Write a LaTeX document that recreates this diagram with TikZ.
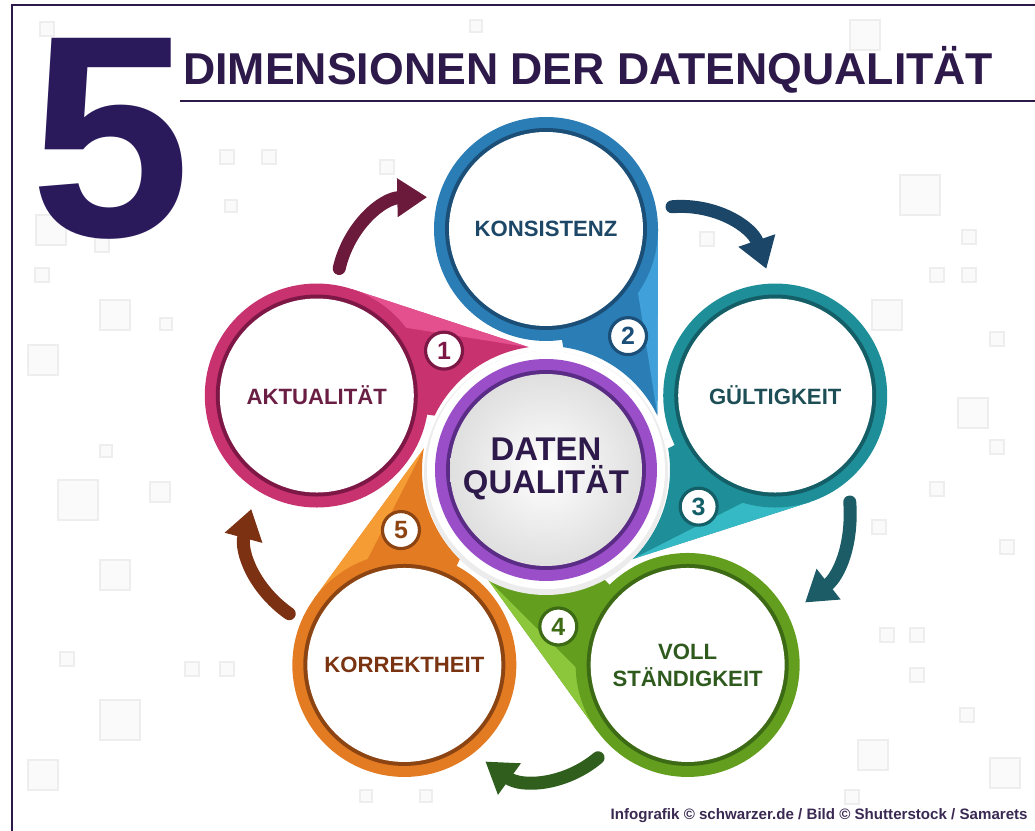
\documentclass[tikz,border=0pt]{standalone}
\usepackage{fontspec}
\setmainfont{Liberation Sans}
\usetikzlibrary{arrows.meta}
\definecolor{ink}{HTML}{2E1A4A}
\definecolor{five}{HTML}{2A1A5C}
\definecolor{mag}{HTML}{C8326F}\definecolor{magD}{HTML}{7D1846}\definecolor{magL}{HTML}{E4508E}\definecolor{magT}{HTML}{6B1E44}
\definecolor{blu}{HTML}{2B7DB5}\definecolor{bluD}{HTML}{1B4F78}\definecolor{bluL}{HTML}{3FA0DA}\definecolor{bluT}{HTML}{1D4766}
\definecolor{tea}{HTML}{1E8E98}\definecolor{teaD}{HTML}{145F67}\definecolor{teaL}{HTML}{35B9C4}\definecolor{teaT}{HTML}{1E4E55}
\definecolor{grn}{HTML}{639E1F}\definecolor{grnD}{HTML}{3D6A14}\definecolor{grnL}{HTML}{8CC63A}\definecolor{grnT}{HTML}{2F5A1E}
\definecolor{org}{HTML}{E27B22}\definecolor{orgD}{HTML}{8C4413}\definecolor{orgL}{HTML}{F59C34}\definecolor{orgT}{HTML}{7A3411}
\definecolor{pur}{HTML}{9A4FC9}\definecolor{purD}{HTML}{5A2C85}
\definecolor{arA}{HTML}{6B1A3B}\definecolor{arB}{HTML}{1B4667}\definecolor{arC}{HTML}{1C5C66}
\definecolor{arD}{HTML}{2F5E1D}\definecolor{arE}{HTML}{7C3113}
\tikzset{every node/.append style={transform shape=false}}
\tikzset{
  lbl/.style={font=\bfseries\fontsize{12.6}{15.3}\selectfont, align=center, inner sep=0pt},
  badge/.style={circle, fill=white, line width=1.8pt, minimum size=0.74cm, inner sep=0pt,
    font=\bfseries\fontsize{14.2}{14.2}\selectfont},
  arr/.style={line width=7.4pt, line cap=round, -{Triangle[length=17pt,width=21pt]}},
  sq/.style={draw=gray!13, line width=1.2pt, fill=gray!4},
}

\begin{document}
\begin{tikzpicture}[x=0.02cm,y=0.02cm]
  \useasboundingbox (0,0) rectangle (1035,831);
  % faint squares in the background
  \begin{scope}[shift={(0,831)},yscale=-1]
    \foreach \x/\y/\s in {40/22/14, 220/150/14, 262/150/14, 380/160/14, 225/200/12,
      36/215/30, 95/238/14, 35/268/14, 100/300/30, 160/318/12, 28/345/30, 100/445/12,
      58/480/40, 150/482/20, 100/560/30, 60/652/14, 185/662/14, 220/662/14, 100/700/40,
      28/760/30, 360/790/12, 420/790/12, 900/175/40, 962/230/14, 930/268/14, 962/268/14,
      872/300/30, 990/332/14, 958/398/30, 990/440/14, 930/482/14, 872/520/14, 1000/540/14,
      880/628/14, 910/628/14, 910/668/14, 960/708/14, 858/740/30, 990/758/30, 700/232/14,
      845/790/14, 470/20/12, 850/20/30}
      \draw[sq] (\x,\y) rectangle ++(\s,\s);
  \end{scope}
  % frame
  \draw[ink, line width=1.2pt] (12,0) -- (12,826) -- (1035,826);
  % heading
  \node[anchor=base west, inner sep=0pt, text=five, font=\bfseries\fontsize{164}{164}\selectfont] (five) at (30,594) {5};
  \node[anchor=base west, inner sep=0pt, text=ink, font=\bfseries\fontsize{25.4}{25.4}\selectfont] (title) at (183,746) {DIMENSIONEN DER DATENQUALITÄT};
  \draw[ink, line width=1.2pt] (180,730) -- (1035,730);

  \begin{scope}[shift={(546,361)}]
    % tails
    \foreach \a/\col/\lt in {162/mag/magL, 90/blu/bluL, 18/tea/teaL, -54/grn/grnL, -126/org/orgL}{
      \begin{scope}[rotate=\a]
        \fill[\col] (241,0) -- (241,-112) -- (-64:124) arc[start angle=-64, end angle=-8, radius=124] -- (130,-16) -- cycle;
        \fill[\lt] (-64:124) -- (241,-112) -- (177,-92) -- cycle;
      \end{scope}
    }
    % rings, labels and numbers
    \foreach \a/\col/\dk/\tc/\nm/\idx/\txt in {162/mag/magD/magT/akt/1/AKTUALITÄT,
        90/blu/bluD/bluT/kons/2/KONSISTENZ, 18/tea/teaD/teaT/guelt/3/GÜLTIGKEIT,
        -54/grn/grnD/grnT/voll/4/{VOLL\\STÄNDIGKEIT}, -126/org/orgD/orgT/korr/5/KORREKTHEIT}{
      \fill[\col] (\a:241) circle[radius=112];
      \fill[\dk] (\a:241) circle[radius=101];
      \fill[white] (\a:241) circle[radius=97];
      \node[lbl, text=\tc] (\nm) at (\a:241) {\txt};
      \node[badge, draw=\dk, text=\dk] (b\nm) at ({\a-31.5}:157) {\idx};
    }
    % centre
    \fill[gray!15] (0,-3) circle[radius=122];
    \fill[white] (0,0) circle[radius=119];
    \fill[pur] (0,0) circle[radius=111];
    \fill[purD] (0,0) circle[radius=100];
    \shade[inner color=white, outer color=gray!25] (0,0) circle[radius=96];
    \node[text=ink, align=center, inner sep=0pt, font=\bfseries\fontsize{18.7}{18.7}\selectfont] (dq) at (0,1) {DATEN\\QUALITÄT};
  \end{scope}

  % arrows between the circles
  \path (akt) ++(80:129) coordinate (a1s);
  \path (kons) ++(165:123) coordinate (a1e);
  \path (kons) ++(10:128) coordinate (a2s);
  \path (guelt) ++(94:127) coordinate (a2e);
  \path (guelt) ++(-55:130) coordinate (a3s);
  \path (voll) ++(28:133) coordinate (a3e);
  \path (voll) ++(-134:129) coordinate (a4s);
  \path (korr) ++(-50:126) coordinate (a4e);
  \path (korr) ++(156:126) coordinate (a5s);
  \path (akt) ++(-120:131) coordinate (a5e);
  \draw[arr, arA] (a1s) to[bend left=38] (a1e);
  \draw[arr, arB] (a2s) to[bend left=38] (a2e);
  \draw[arr, arC] (a3s) to[bend left=28] (a3e);
  \draw[arr, arD] (a4s) to[bend left=38] (a4e);
  \draw[arr, arE] (a5s) to[bend left=35] (a5e);

  \node[anchor=base east, inner sep=0pt, text=ink!85!gray, font=\bfseries\fontsize{8.6}{8.6}\selectfont] (credit) at (1028,11) {Infografik © schwarzer.de / Bild © Shutterstock / Samarets};
\end{tikzpicture}
\end{document}
